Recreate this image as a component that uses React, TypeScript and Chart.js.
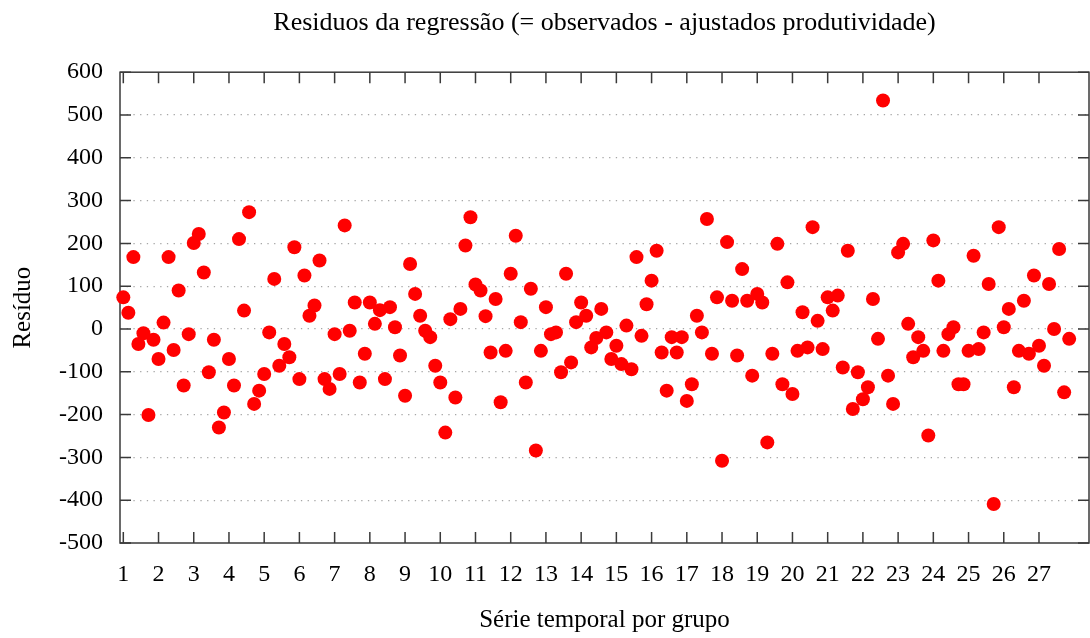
import React, { useEffect, useRef } from 'react';
import { Chart, registerables } from 'chart.js';

Chart.register(...registerables);

const chartTitle = 'Residuos da regressão (= observados - ajustados produtividade)';
const xAxisTitle = 'Série temporal por grupo';
const yAxisTitle = 'Resíduo';

// groups (cross-sectional units), each with 7 periods
const groups = [1, 2, 3, 4, 5, 6, 7, 8, 9, 10, 11, 12, 13, 14, 15, 16, 17, 18, 19, 20, 21, 22, 23, 24, 25, 26, 27];
const periodsPerGroup = 7;

const yTicks = [-500, -400, -300, -200, -100, 0, 100, 200, 300, 400, 500, 600];

// residuals, in order of group then period
const residuals = [
  74, 38, 168, -35, -10, -201, -25,
  -70, 15, 168, -49, 90, -132, -12,
  201, 222, 132, -101, -25, -230, -195,
  -70, -132, 210, 43, 273, -175, -144,
  -105, -8, 117, -86, -35, -66, 191,
  -117, 125, 31, 55, 160, -117, -140,
  -12, -105, 242, -4, 62, -125, -58,
  62, 12, 44, -117, 51, 4, -62,
  -156, 152, 82, 31, -4, -19, -86,
  -125, -242, 23, -160, 47, 195, 261,
  104, 90, 30, -55, 70, -171, -51,
  129, 218, 16, -125, 94, -284, -51,
  51, -12, -8, -101, 129, -78, 16,
  62, 31, -43, -21, 47, -8, -70,
  -39, -82, 8, -94, 168, -16, 58,
  113, 183, -55, -144, -19, -55, -19,
  -168, -129, 31, -8, 257, -58, 74,
  -308, 203, 66, -62, 140, 66, -109,
  82, 62, -265, -58, 199, -129, 109,
  -152, -51, 39, -43, 238, 19, -47,
  74, 43, 78, -90, 183, -187, -101,
  -164, -136, 70, -23, 534, -109, -175,
  179, 199, 12, -66, -19, -51, -249,
  207, 113, -51, -12, 4, -129, -129,
  -51, 171, -47, -8, 105, -409, 238,
  4, 47, -136, -51, 66, -58, 125,
  -39, -86, 105, 0, 187, -148, -23,
];

const FONT = "'Liberation Serif', 'Times New Roman', serif";

const framePlugin = {
  id: 'gnuplotFrame',
  beforeDatasetsDraw(chart: any) {
    const { ctx, chartArea, scales } = chart;
    const { left, right, top, bottom } = chartArea;
    const xs = scales.x;
    const ys = scales.y;
    ctx.save();
    ctx.strokeStyle = '#3a3a3a';
    ctx.lineWidth = 1.5;
    ctx.strokeRect(left, top, right - left, bottom - top);
    ctx.beginPath();
    yTicks.forEach((v) => {
      const py = ys.getPixelForValue(v);
      ctx.moveTo(left, py);
      ctx.lineTo(left + 11, py);
      ctx.moveTo(right, py);
      ctx.lineTo(right - 11, py);
    });
    groups.forEach((g) => {
      const px = xs.getPixelForValue(g);
      ctx.moveTo(px, bottom);
      ctx.lineTo(px, bottom - 11);
      ctx.moveTo(px, top);
      ctx.lineTo(px, top + 11);
    });
    ctx.stroke();
    ctx.restore();
  },
};

export default function App() {
  const canvasRef = useRef<HTMLCanvasElement | null>(null);

  useEffect(() => {
    if (!canvasRef.current) return;
    const points = residuals.map((v, i) => ({
      x: groups[Math.floor(i / periodsPerGroup)] + (i % periodsPerGroup) / periodsPerGroup,
      y: v,
    }));

    const chart = new Chart(canvasRef.current, {
      type: 'scatter',
      data: {
        datasets: [
          {
            label: 'Resíduo',
            data: points,
            backgroundColor: '#ff0000',
            borderWidth: 0,
            pointRadius: 7,
            pointHoverRadius: 7,
            clip: false as any,
          },
        ],
      },
      options: {
        animation: false,
        responsive: false,
        devicePixelRatio: 1,
        layout: { autoPadding: false, padding: { left: 0, right: 1, top: 0, bottom: 0 } },
        plugins: {
          legend: { display: false },
          tooltip: { enabled: false },
          title: {
            display: true,
            text: chartTitle,
            fullSize: false,
            color: '#000',
            font: { family: FONT, size: 26, weight: 'normal' as any, lineHeight: 1.2 },
            padding: { top: 8, bottom: 33 },
          },
        },
        scales: {
          x: {
            type: 'linear',
            min: 0.906,
            max: 28.42,
            afterBuildTicks: (s: any) => {
              s.ticks = groups.map((g) => ({ value: g }));
            },
            afterFit: (s: any) => {
              s.height = 95;
            },
            ticks: {
              autoSkip: false,
              maxRotation: 0,
              minRotation: 0,
              color: '#000',
              padding: 17,
              font: { family: FONT, size: 24 },
              callback: (v: any) => String(v),
            },
            grid: { display: false, drawTicks: false },
            border: { display: false },
            title: {
              display: true,
              text: xAxisTitle,
              color: '#000',
              font: { family: FONT, size: 25, lineHeight: 1.2 },
              padding: { top: 0, bottom: 3 },
            },
          },
          y: {
            type: 'linear',
            min: -500,
            max: 600,
            afterBuildTicks: (s: any) => {
              s.ticks = yTicks.map((v) => ({ value: v }));
            },
            afterFit: (s: any) => {
              s.width = 120;
            },
            ticks: {
              color: '#000',
              padding: 17,
              font: { family: FONT, size: 24 },
              callback: (v: any) => String(v),
            },
            grid: {
              drawTicks: false,
              lineWidth: 1.3,
              color: (c: any) =>
                c.tick && (c.tick.value === -500 || c.tick.value === 600) ? 'rgba(0,0,0,0)' : '#a6a6a6',
            },
            border: { display: false, dash: [1.3, 5.4] },
            title: {
              display: true,
              text: yAxisTitle,
              color: '#000',
              font: { family: FONT, size: 25, lineHeight: 1.2 },
              padding: { top: 8, bottom: 0 },
            },
          },
        },
      },
      plugins: [framePlugin],
    });
    return () => chart.destroy();
  }, []);

  return (
    <div style={{ position: 'fixed', left: 0, top: 0, width: 1090, height: 638, background: '#fff' }}>
      <canvas ref={canvasRef} width={1090} height={638} style={{ display: 'block' }} />
    </div>
  );
}
